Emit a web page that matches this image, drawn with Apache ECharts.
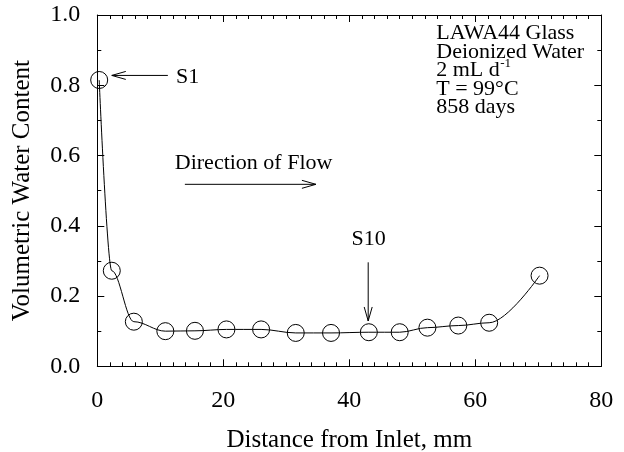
<!DOCTYPE html>
<html>
<head>
<meta charset="utf-8">
<title>Volumetric Water Content vs Distance</title>
<script src="https://cdn.jsdelivr.net/npm/echarts@6/dist/echarts.min.js"></script>
<style>
  html, body { margin: 0; padding: 0; background: #fff; }
  #chart { width: 624px; height: 452px; }
</style>
</head>
<body>
<div id="chart"></div>
<script>
// Measured profile along the column
const distance = [0.3, 2.3, 5.8, 10.8, 15.5, 20.5, 26.0, 31.5, 37.1, 43.1, 48.0, 52.4, 57.3, 62.2, 70.2];
const waterContent = [0.815, 0.272, 0.127, 0.100, 0.101, 0.105, 0.105, 0.095, 0.095, 0.097, 0.097, 0.110, 0.116, 0.124, 0.258];

const xTicks = [0, 20, 40, 60, 80];
const yTicks = [0.0, 0.2, 0.4, 0.6, 0.8, 1.0];

const infoLines = ['LAWA44 Glass', 'Deionized Water', '2 mL d', 'T = 99°C', '858 days'];

const FONT = '"Liberation Serif", "Times New Roman", serif';
const INK = '#000';

const chart = echarts.init(document.getElementById('chart'), null, { renderer: 'canvas' });

const points = distance.map((d, i) => [d, waterContent[i]]);

function axisBase(extra) {
  return Object.assign({
    axisLine: { show: true, onZero: false, lineStyle: { color: INK, width: 1 } },
    axisTick: { show: true, inside: true, length: 7, lineStyle: { color: INK, width: 1 } },
    minorTick: { show: true, length: 4, lineStyle: { color: INK, width: 1 } },
    splitLine: { show: false },
    minorSplitLine: { show: false }
  }, extra);
}

const option = {
  backgroundColor: '#fff',
  animation: false,
  grid: { left: 97.3, right: 22.7, top: 15, bottom: 85.7, containLabel: false, outerBoundsMode: 'none' },
  xAxis: [
    axisBase({
      type: 'value', position: 'bottom',
      min: xTicks[0], max: xTicks[xTicks.length - 1], interval: 20,
      minorTick: { show: true, splitNumber: 10, length: 4, lineStyle: { color: INK } },
      axisLabel: { show: true, color: INK, fontFamily: FONT, fontSize: 24, margin: 22 },
      name: 'Distance from Inlet, mm', nameLocation: 'middle', nameGap: 62,
      nameTextStyle: { color: INK, fontFamily: FONT, fontSize: 25 }
    }),
    axisBase({
      type: 'value', position: 'top',
      min: xTicks[0], max: xTicks[xTicks.length - 1], interval: 20,
      minorTick: { show: true, splitNumber: 10, length: 4, lineStyle: { color: INK } },
      axisLabel: { show: false }
    })
  ],
  yAxis: [
    axisBase({
      type: 'value', position: 'left',
      min: yTicks[0], max: yTicks[yTicks.length - 1], interval: 0.2,
      minorTick: { show: true, splitNumber: 2, length: 4, lineStyle: { color: INK } },
      axisLabel: { show: true, color: INK, fontFamily: FONT, fontSize: 24, margin: 17,
        formatter: v => v.toFixed(1) },
      name: 'Volumetric Water Content', nameLocation: 'middle', nameGap: 62, nameRotate: 90,
      nameTextStyle: { color: INK, fontFamily: FONT, fontSize: 25 }
    }),
    axisBase({
      type: 'value', position: 'right',
      min: yTicks[0], max: yTicks[yTicks.length - 1], interval: 0.2,
      minorTick: { show: true, splitNumber: 2, length: 4, lineStyle: { color: INK } },
      axisLabel: { show: false }
    })
  ],
  series: [{
    type: 'line',
    data: points,
    xAxisIndex: 0,
    yAxisIndex: 0,
    smooth: 0.35,
    smoothMonotone: 'x',
    symbol: 'circle',
    symbolSize: 17,
    lineStyle: { color: INK, width: 1 },
    itemStyle: { color: 'rgba(0,0,0,0)', borderColor: INK, borderWidth: 1 },
    emphasis: { disabled: true },
    z: 3
  }]
};

chart.setOption(option);

// Annotations placed in data coordinates
const px = (x, y) => chart.convertToPixel({ gridIndex: 0 }, [x, y]);

function arrow(from, to) {
  const a = px(from[0], from[1]);
  const b = px(to[0], to[1]);
  const ang = Math.atan2(b[1] - a[1], b[0] - a[0]);
  const len = 14, half = 4;
  const ux = Math.cos(ang), uy = Math.sin(ang);
  const bx = b[0] - ux * len, by = b[1] - uy * len;
  const nx = -uy * half, ny = ux * half;
  return [
    { type: 'line', shape: { x1: a[0], y1: a[1], x2: b[0], y2: b[1] },
      style: { stroke: INK, lineWidth: 1 }, silent: true, z: 10 },
    { type: 'polyline', shape: { points: [[bx + nx, by + ny], [b[0], b[1]], [bx - nx, by - ny]] },
      style: { stroke: INK, lineWidth: 1, fill: null }, silent: true, z: 10 }
  ];
}

function label(text, x, y, align, size) {
  const p = px(x, y);
  return { type: 'text', x: p[0], y: p[1], silent: true, z: 10,
    style: { text: text, fill: INK, font: (size || 22) + 'px ' + FONT, align: align || 'left', verticalAlign: 'middle' } };
}

const elements = [];
elements.push(...arrow([11.2, 0.828], [2.3, 0.828]));
elements.push(label('S1', 12.5, 0.823));
elements.push(label('Direction of Flow', 12.3, 0.578));
elements.push(...arrow([13.9, 0.518], [34.7, 0.518]));
elements.push(label('S10', 43.05, 0.362, 'center'));
elements.push(...arrow([43.0, 0.296], [43.0, 0.129]));

// Info block in the upper right corner
const infoStart = px(53.8, 0.947);
const lineStep = 18.5;
const measure = document.createElement('canvas').getContext('2d');
measure.font = '22px ' + FONT;
infoLines.forEach((t, i) => {
  const y = infoStart[1] + i * lineStep;
  elements.push({ type: 'text', x: infoStart[0], y: y, silent: true, z: 10,
    style: { text: t, fill: INK, font: '22px ' + FONT, align: 'left', verticalAlign: 'middle' } });
  if (t === '2 mL d') {
    const w = measure.measureText(t).width;
    elements.push({ type: 'text', x: infoStart[0] + w + 0.5, y: y - 7, silent: true, z: 10,
      style: { text: '-1', fill: INK, font: '13px ' + FONT, align: 'left', verticalAlign: 'middle' } });
  }
});

chart.setOption({ graphic: elements });
</script>
</body>
</html>
